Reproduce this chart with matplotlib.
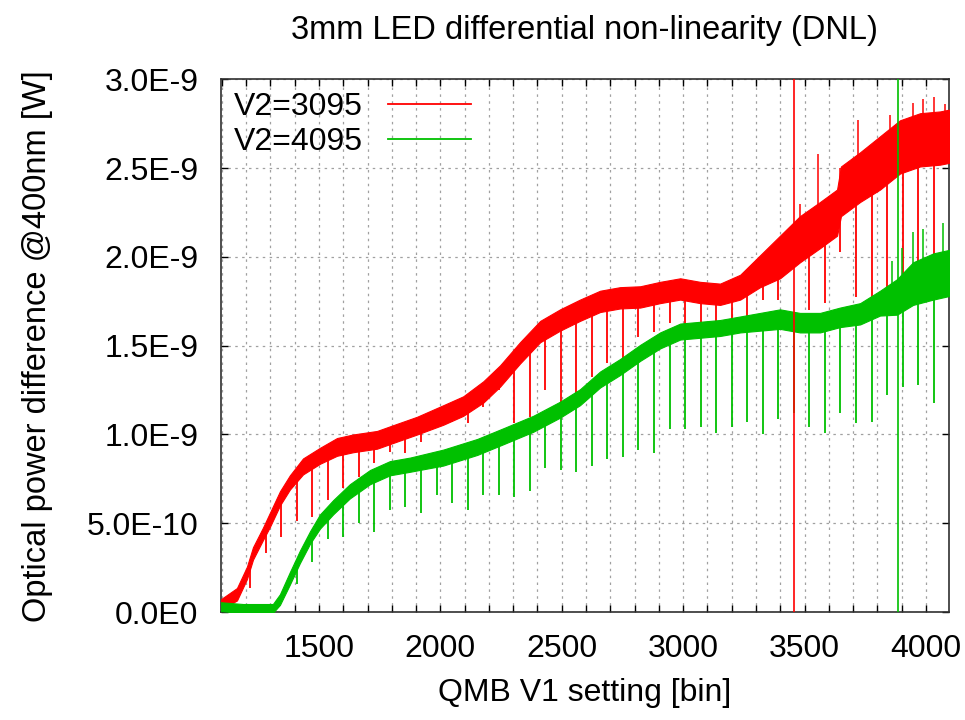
import numpy as np
import matplotlib.pyplot as plt
from matplotlib.lines import Line2D

plt.rcParams['font.family'] = ['Liberation Sans', 'DejaVu Sans']

# V2=3095 (red): band centre and half-width (units of 1E-9 W)
red_bins = [1095, 1104, 1162, 1203, 1228, 1269, 1298, 1339, 1380, 1434, 1504, 1574,
            1640, 1739, 1821, 1904, 2012, 2094, 2177, 2246, 2328, 2411, 2493, 2575,
            2658, 2740, 2823, 2905, 2988, 3070, 3152, 3235, 3317, 3399, 3481, 3564,
            3634, 3650, 3729, 3811, 3893, 3976, 4058, 4095]
red_mid = [0.04, 0.05, 0.10, 0.22, 0.33, 0.44, 0.52, 0.64, 0.73, 0.82, 0.88, 0.93,
           0.95, 0.97, 1.01, 1.05, 1.11, 1.16, 1.24, 1.33, 1.46, 1.58, 1.645, 1.70,
           1.75, 1.77, 1.775, 1.80, 1.82, 1.80, 1.79, 1.83, 1.92, 2.00, 2.10, 2.18,
           2.25, 2.37, 2.45, 2.53, 2.62, 2.66, 2.67, 2.68]
red_half = [0.03, 0.03, 0.035, 0.035, 0.035, 0.035, 0.04, 0.04, 0.04, 0.045, 0.045, 0.05,
            0.05, 0.05, 0.05, 0.05, 0.055, 0.055, 0.06, 0.06, 0.06, 0.06, 0.06, 0.06,
            0.06, 0.06, 0.06, 0.06, 0.06, 0.06, 0.06, 0.07, 0.09, 0.12, 0.13, 0.13,
            0.13, 0.14, 0.14, 0.15, 0.15, 0.15, 0.15, 0.15]

# V2=4095 (green)
green_bins = [1095, 1187, 1310, 1339, 1380, 1421, 1463, 1504, 1558, 1627, 1710, 1792,
              1875, 2012, 2152, 2259, 2382, 2493, 2575, 2658, 2740, 2823, 2905, 2988,
              3070, 3152, 3235, 3317, 3399, 3481, 3564, 3646, 3729, 3811, 3881, 3947,
              4030, 4095]
green_mid = [0.03, 0.02, 0.02, 0.07, 0.19, 0.31, 0.42, 0.51, 0.59, 0.68, 0.76, 0.81,
             0.83, 0.87, 0.93, 0.99, 1.06, 1.14, 1.21, 1.31, 1.38, 1.46, 1.53, 1.58,
             1.59, 1.60, 1.62, 1.635, 1.65, 1.63, 1.63, 1.66, 1.68, 1.74, 1.775, 1.85,
             1.89, 1.91]
green_half = [0.025, 0.025, 0.025, 0.03, 0.035, 0.035, 0.035, 0.04, 0.04, 0.04, 0.04, 0.04,
              0.04, 0.045, 0.045, 0.045, 0.045, 0.045, 0.045, 0.045, 0.045, 0.045, 0.045, 0.045,
              0.045, 0.045, 0.045, 0.05, 0.055, 0.055, 0.055, 0.055, 0.06, 0.07, 0.10, 0.12,
              0.13, 0.13]

# downward DNL spikes every 64 bins (bin, lowest value)
red_dn_bins = [1216, 1280, 1344, 1408, 1472, 1536, 1600, 1664, 1728, 1792, 1856, 1920,
               1984, 2048, 2112, 2176, 2240, 2304, 2368, 2432, 2496, 2560, 2624, 2688,
               2752, 2816, 2880, 2944, 3008, 3072, 3136, 3200, 3264, 3328, 3392, 3520,
               3584, 3648, 3712, 3776, 3840, 3904, 3968, 4032]
red_dn_vals = [0.135, 0.33, 0.42, 0.51, 0.535, 0.63, 0.70, 0.76, 0.84, 0.90, 0.895, 0.96,
               1.065, 1.07, 1.065, 1.155, 1.25, 1.065, 1.10, 1.25, 1.18, 1.21, 1.325, 1.40,
               1.39, 1.55, 1.58, 1.63, 1.62, 1.63, 1.61, 1.63, 1.66, 1.76, 1.76, 1.70,
               1.74, 2.03, 1.775, 1.775, 1.76, 1.775, 1.91, 1.93]
green_dn_bins = [1408, 1472, 1536, 1600, 1664, 1728, 1792, 1856, 1920, 1984, 2048, 2112,
                 2176, 2240, 2304, 2368, 2432, 2496, 2560, 2624, 2688, 2752, 2816, 2880,
                 2944, 3008, 3072, 3136, 3200, 3264, 3328, 3392, 3456, 3520, 3584, 3648,
                 3712, 3776, 3840, 3904, 3968, 4032]
green_dn_vals = [0.16, 0.28, 0.41, 0.42, 0.50, 0.45, 0.575, 0.59, 0.56, 0.66, 0.615, 0.575,
                 0.66, 0.66, 0.65, 0.68, 0.81, 0.80, 0.79, 0.82, 0.86, 0.875, 0.91, 0.895,
                 1.03, 1.03, 1.04, 1.01, 1.04, 1.07, 1.00, 1.09, 1.12, 1.04, 1.01, 1.12,
                 1.065, 1.07, 1.22, 1.27, 1.28, 1.18]

# upward noise excursions (bin, highest value)
red_up_bins = [3480, 3557, 3646, 3722, 3850, 3948, 3990, 4035, 4080]
red_up_vals = [2.30, 2.58, 2.50, 2.77, 2.80, 2.87, 2.89, 2.90, 2.86]
green_up_bins = [3860, 3900, 3948, 3990, 4070]
green_up_vals = [1.98, 2.05, 2.14, 2.16, 2.19]

# outliers that run over the full height
red_out_bin, green_out_bin = 3456, 3883

y_ticks = [0.0, 0.5, 1.0, 1.5, 2.0, 2.5, 3.0]
y_labels = ['0.0E0', '5.0E-10', '1.0E-9', '1.5E-9', '2.0E-9', '2.5E-9', '3.0E-9']
x_ticks = [1500, 2000, 2500, 3000, 3500, 4000]

RED = '#ff0000'
GREEN = '#00c000'

fig = plt.figure(figsize=(9.65, 7.2), dpi=100)
ax = fig.add_axes([0.2287, 0.15, 0.7547, 0.7396])

def draw(bins, mid, half, dn_b, dn_v, up_b, up_v, color):
    bins = np.array(bins)
    mid = np.array(mid)
    half = np.array(half)
    ax.fill_between(bins, mid - half, mid + half, color=color, lw=0.8,
                    edgecolor=color, zorder=3)
    ax.vlines(dn_b, dn_v, np.interp(dn_b, bins, mid), color=color, lw=1.3, zorder=3)
    ax.vlines(up_b, np.interp(up_b, bins, mid), up_v, color=color, lw=1.1, zorder=3)

draw(red_bins, red_mid, red_half, red_dn_bins, red_dn_vals, red_up_bins, red_up_vals, RED)
draw(green_bins, green_mid, green_half, green_dn_bins, green_dn_vals,
     green_up_bins, green_up_vals, GREEN)
ax.vlines([red_out_bin], -1, 4, color=RED, lw=1.2, zorder=4)
ax.vlines([green_out_bin], -1, 4, color=GREEN, lw=1.2, zorder=4)

ax.set_xlim(1095, 4095)
ax.set_ylim(0, 3.0)
ax.set_xticks(x_ticks)
ax.set_xticks(np.arange(1100, 4100, 100), minor=True)
ax.set_yticks(y_ticks)
ax.set_yticklabels(y_labels)

ax.grid(True, which='both', axis='x', color='#a0a0a0', ls=(0, (2, 3.5)), lw=0.9, zorder=1)
ax.grid(True, which='major', axis='y', color='#a0a0a0', ls=(0, (2, 3.5)), lw=0.9, zorder=1)
ax.set_axisbelow(True)

ax.tick_params(which='both', direction='in', top=True, right=True, labelsize=23, width=1)
ax.tick_params(which='both', length=5)
ax.tick_params(axis='y', pad=16)
ax.tick_params(axis='x', pad=16)
for s in ax.spines.values():
    s.set_linewidth(1.2)
    s.set_color('#303030')

ax.set_title('3mm LED differential non-linearity (DNL)', fontsize=23.5, pad=29)
ax.set_xlabel('QMB V1 setting [bin]', fontsize=23, labelpad=10)
ax.set_ylabel('Optical power difference @400nm [W]', fontsize=23.5, labelpad=24)

handles = [Line2D([], [], color=RED, lw=1.3), Line2D([], [], color=GREEN, lw=1.3)]
ax.legend(handles, ['V2=3095', 'V2=4095'], loc='upper left', frameon=False,
          fontsize=23, markerfirst=False, handlelength=2.6, handletextpad=0.8,
          labelspacing=0.15, borderaxespad=0.0, bbox_to_anchor=(0.0, 1.0))

fig.savefig('out.png', dpi=100)
